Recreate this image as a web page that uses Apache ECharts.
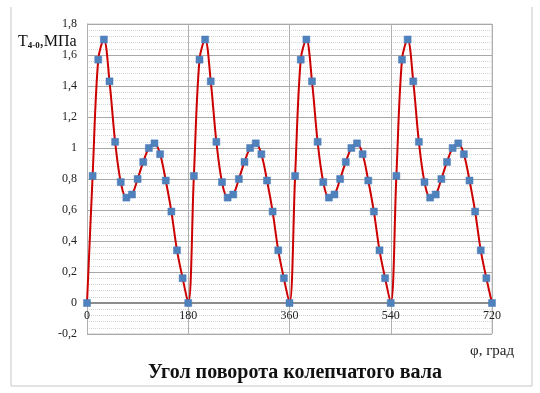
<!DOCTYPE html>
<html><head><meta charset="utf-8">
<script src="https://cdn.jsdelivr.net/npm/echarts@6/dist/echarts.min.js"></script>
<style>html,body{margin:0;padding:0;background:#fff}#c{width:540px;height:393px}</style>
</head><body><div id="c"></div>
<script>
// crank angle, degrees
const angles = [0,10,20,30,40,50,60,70,80,90,100,110,120,130,140,150,160,170,
180,190,200,210,220,230,240,250,260,270,280,290,300,310,320,330,340,350,
360,370,380,390,400,410,420,430,440,450,460,470,480,490,500,510,520,530,
540,550,560,570,580,590,600,610,620,630,640,650,660,670,680,690,700,710,720];
// T4-0, MPa
const torque = [0,0.82,1.57,1.70,1.43,1.04,0.78,0.68,0.70,0.80,0.91,1.00,1.03,0.96,0.79,0.59,0.34,0.16,
0,0.82,1.57,1.70,1.43,1.04,0.78,0.68,0.70,0.80,0.91,1.00,1.03,0.96,0.79,0.59,0.34,0.16,
0,0.82,1.57,1.70,1.43,1.04,0.78,0.68,0.70,0.80,0.91,1.00,1.03,0.96,0.79,0.59,0.34,0.16,
0,0.82,1.57,1.70,1.43,1.04,0.78,0.68,0.70,0.80,0.91,1.00,1.03,0.96,0.79,0.59,0.34,0.16,0];
const xTicks = [0,180,360,540,720];
const yMin = -0.2, yMax = 1.8, yStep = 0.2;
const titleText = 'Угол поворота колепчатого вала';
const xName = 'φ, град';

const chart = echarts.init(document.getElementById('c'));
const serif = 'Liberation Serif';
chart.setOption({
  animation:false,
  grid:{left:87,right:48,top:24,bottom:59},
  xAxis:{type:'value',min:0,max:720,interval:180,
    axisLine:{onZero:true,lineStyle:{color:'#8c8c8c',width:2}},
    axisTick:{show:false},
    axisLabel:{fontFamily:serif,fontSize:12,color:'#222',margin:-24,
      formatter:v=>xTicks.includes(v)?String(v):''},
    splitLine:{show:true,lineStyle:{color:'#b0b0b0',width:1}}
  },
  yAxis:{type:'value',min:yMin,max:yMax,interval:yStep,
    axisLine:{show:true,lineStyle:{color:'#b0b0b0'}},
    axisTick:{show:false},
    axisLabel:{fontFamily:serif,fontSize:12,color:'#222',margin:10,
      formatter:v=>{let r=Math.round(v*10)/10;return String(r).replace('.',',');}},
    splitLine:{show:true,lineStyle:{color:'#a8a8a8',width:1}},
    minorTick:{show:true,splitNumber:5,length:0},
    minorSplitLine:{show:true,lineStyle:{color:'#d4d4d4',type:'dotted',width:1}}
  },
  series:[{type:'line',data:angles.map((a,i)=>[a,torque[i]]),smooth:0.35,
    lineStyle:{color:'#cc0000',width:2},
    symbol:'rect',symbolSize:7,
    itemStyle:{color:'#4f81bd',borderColor:'#4a7ab5',borderWidth:0.5},
    z:3}],
  graphic:[
    {type:'polyline',shape:{points:[[11,7],[11,386],[532,386],[532,7]]},style:{stroke:'#c8c8c8',fill:null,lineWidth:1}},
    {type:'polyline',shape:{points:[[87,24],[492,24],[492,334],[87,334]]},style:{stroke:'#c8c8c8',fill:null,lineWidth:1},z:0},
    {type:'text',left:18,top:34,style:{rich:{a:{fontFamily:serif,fontSize:16,fill:'#111'},b:{fontFamily:serif,fontSize:9,fontWeight:'bold',fill:'#111',padding:[8,0,0,0]}},text:'{a|T}{b|4-0}{a|,МПа}'}},
    {type:'text',left:470,top:344,style:{text:xName,fontFamily:serif,fontSize:15,fill:'#222'}},
    {type:'text',x:295,y:373,style:{text:titleText,fontFamily:serif,fontSize:20,fontWeight:'bold',fill:'#111',align:'center',verticalAlign:'middle'}}
  ]
});
</script></body></html>
